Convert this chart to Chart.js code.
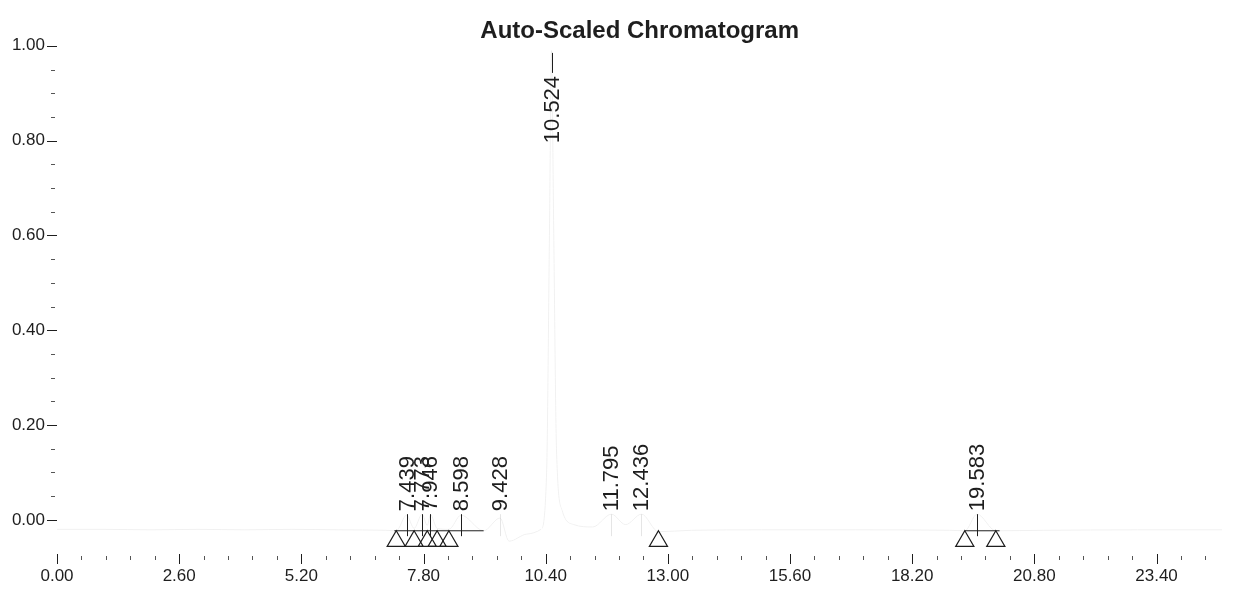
<!DOCTYPE html>
<html>
<head>
<meta charset="utf-8">
<title>Auto-Scaled Chromatogram</title>
<script src="https://cdn.jsdelivr.net/npm/chart.js@4/dist/chart.umd.min.js"></script>
<style>
  html, body { margin: 0; padding: 0; background: #fff; }
  #wrap { width: 1234px; height: 603px; position: relative; }
</style>
</head>
<body>
<div id="wrap"><canvas id="chromChart"></canvas></div>
<script>
// retention time (min) and detector response (AU)
const traceTime = [0.00, 1.00, 2.00, 3.00, 4.00, 5.00, 6.00, 7.00, 7.22, 7.44, 7.60, 7.77, 7.88, 7.95, 8.09, 8.34, 8.60, 9.08, 9.43, 9.62, 10.00, 10.30, 10.42, 10.48, 10.524, 10.57, 10.63, 10.75, 11.00, 11.40, 11.80, 12.10, 12.44, 12.80, 13.50, 15.00, 17.00, 19.00, 19.32, 19.58, 19.98, 21.00, 23.00, 24.80];
const traceSignal = [-0.020, -0.020, -0.021, -0.020, -0.021, -0.020, -0.021, -0.022, -0.023, 0.010, -0.018, 0.012, -0.012, 0.011, -0.018, -0.020, 0.010, -0.023, 0.004, -0.045, -0.030, -0.020, 0.100, 0.600, 0.990, 0.620, 0.150, 0.020, -0.010, -0.015, 0.012, -0.010, 0.012, -0.025, -0.022, -0.021, -0.021, -0.022, -0.023, 0.012, -0.023, -0.022, -0.021, -0.021];

// labelled peaks
const peakTimes = [7.439, 7.773, 7.946, 8.598, 9.428, 10.524, 11.795, 12.436, 19.583];
const peakApex = [0.012, 0.012, 0.012, 0.012, 0.012, 0.985, 0.012, 0.012, 0.012];

// integration start / end markers
const boundTimes = [7.22, 7.60, 7.88, 8.09, 8.34, 12.80, 19.32, 19.98];
const boundSignal = [-0.045, -0.045, -0.045, -0.045, -0.045, -0.045, -0.045, -0.045];

// drawn baselines (start, end, level)
const baseStart = [7.18, 19.32];
const baseEnd = [9.08, 20.06];
const baseLevel = [-0.023, -0.023];

const xMajor = 2.6;
const yMajor = 0.2;
const fontFamily = '"Liberation Sans", Arial, Helvetica, sans-serif';
const ink = '#1e1e1e';

function isMult(v, step) {
    return Math.abs(v / step - Math.round(v / step)) < 1e-6;
}

const traceData = traceTime.map((t, i) => ({x: t, y: traceSignal[i]}));
const boundData = boundTimes.map((t, i) => ({x: t, y: boundSignal[i]}));
const baseData = [];
baseStart.forEach((s, i) => {
    baseData.push({x: s, y: baseLevel[i]});
    baseData.push({x: baseEnd[i], y: baseLevel[i]});
    baseData.push({x: baseEnd[i], y: null});
});

// tick marks, minor ones shorter than the labelled ones
const axisMarks = {
    id: 'axisMarks',
    afterDraw(chart) {
        const {ctx, chartArea, scales: {x, y}} = chart;
        ctx.save();
        ctx.lineWidth = 1;
        x.ticks.forEach(t => {
            const major = isMult(t.value, xMajor);
            const px = Math.round(x.getPixelForValue(t.value)) + 0.5;
            ctx.strokeStyle = major ? ink : '#555';
            ctx.beginPath();
            ctx.moveTo(px, chartArea.bottom + (major ? 0 : 2));
            ctx.lineTo(px, chartArea.bottom + (major ? 10 : 6));
            ctx.stroke();
        });
        y.ticks.forEach(t => {
            const major = isMult(t.value, yMajor);
            const py = Math.round(y.getPixelForValue(t.value)) + 0.5;
            ctx.strokeStyle = major ? ink : '#555';
            ctx.beginPath();
            ctx.moveTo(chartArea.left - (major ? 10 : 6), py);
            ctx.lineTo(chartArea.left - (major ? 0 : 2), py);
            ctx.stroke();
        });
        ctx.restore();
    }
};

// rotated retention time labels with their peak marks
const peakLabels = {
    id: 'peakLabels',
    afterDatasetsDraw(chart, args, opts) {
        const {ctx, scales: {x, y}} = chart;
        ctx.save();
        ctx.font = '22px ' + fontFamily;
        ctx.textBaseline = 'middle';
        ctx.lineWidth = 1;
        peakTimes.forEach((t, i) => {
            const px = Math.round(x.getPixelForValue(t)) + 0.5;
            const py = y.getPixelForValue(peakApex[i]);
            const tall = peakApex[i] > 0.5;
            ctx.strokeStyle = opts.faint.includes(i) ? 'rgba(0,0,0,0.1)' : ink;
            ctx.beginPath();
            ctx.moveTo(px, py);
            ctx.lineTo(px, py + (tall ? 20 : 22));
            ctx.stroke();
            ctx.save();
            ctx.fillStyle = ink;
            ctx.translate(px, tall ? py + 23 : py - 3);
            ctx.rotate(-Math.PI / 2);
            ctx.textAlign = tall ? 'right' : 'left';
            ctx.fillText(t.toFixed(3), 0, 0);
            ctx.restore();
        });
        ctx.restore();
    }
};

const ctx = document.getElementById('chromChart').getContext('2d');
const myChart = new Chart(ctx, {
    type: 'scatter',
    data: {
        datasets: [
            {
                label: 'Signal',
                data: traceData,
                showLine: true,
                borderColor: 'rgba(0,0,0,0.06)',
                borderWidth: 1,
                pointRadius: 0,
                cubicInterpolationMode: 'monotone'
            },
            {
                label: 'Baseline',
                data: baseData,
                showLine: true,
                spanGaps: false,
                borderColor: ink,
                borderWidth: 1,
                pointRadius: 0
            },
            {
                label: 'Peak bounds',
                data: boundData,
                showLine: false,
                pointStyle: 'triangle',
                pointRadius: 10.5,
                pointBackgroundColor: 'rgba(255,255,255,0)',
                pointBorderColor: ink,
                pointBorderWidth: 1.2
            }
        ]
    },
    options: {
        responsive: true,
        maintainAspectRatio: false,
        animation: false,
        events: [],
        layout: { padding: { left: 0, right: 3, top: 0, bottom: 0 } },
        plugins: {
            legend: { display: false },
            tooltip: { enabled: false },
            title: {
                display: true,
                text: 'Auto-Scaled Chromatogram',
                fullSize: false,
                color: ink,
                font: { family: fontFamily, size: 24, weight: 'bold' },
                padding: { top: 17, bottom: 0 }
            },
            peakLabels: { faint: [4, 6, 7] }
        },
        scales: {
            x: {
                type: 'linear',
                min: 0,
                max: 24.8,
                afterFit: s => { s.height = 49; },
                border: { display: false },
                grid: { display: false, drawTicks: false },
                ticks: {
                    stepSize: 0.52,
                    includeBounds: false,
                    autoSkip: false,
                    maxRotation: 0,
                    minRotation: 0,
                    padding: 12,
                    color: ink,
                    font: { family: fontFamily, size: 17 },
                    callback: v => isMult(v, xMajor) ? v.toFixed(2) : ''
                }
            },
            y: {
                type: 'linear',
                min: -0.072,
                max: 1.0,
                afterFit: s => { s.width = 57; },
                afterBuildTicks: s => { s.ticks = s.ticks.filter(t => t.value > -1e-9); },
                border: { display: false },
                grid: { display: false, drawTicks: false },
                ticks: {
                    stepSize: 0.05,
                    includeBounds: false,
                    autoSkip: false,
                    padding: 12,
                    color: ink,
                    font: { family: fontFamily, size: 17 },
                    callback: v => isMult(v, yMajor) ? v.toFixed(2) : ''
                }
            }
        }
    },
    plugins: [axisMarks, peakLabels]
});
</script>
</body>
</html>
